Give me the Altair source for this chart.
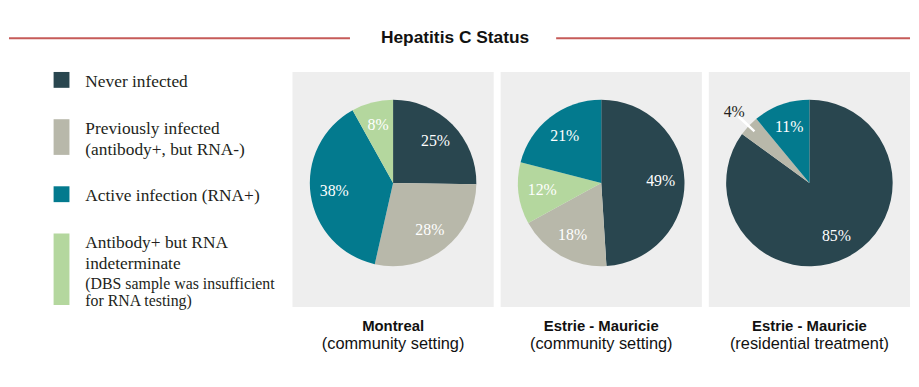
import altair as alt
import pandas as pd

# ---------------- data ----------------
categories = ["Never infected", "Previously infected", "Active infection",
              "Antibody+ but RNA indeterminate"]
colors = ["#29464f", "#b8b8aa", "#037a8e", "#b4d79e"]

legend_labels = [
    "Never infected",
    "Previously infected\n(antibody+, but RNA-)",
    "Active infection (RNA+)",
    "Antibody+ but RNA\nindeterminate",
]
legend_notes = ["", "", "", "(DBS sample was insufficient\nfor RNA testing)"]

chart_title = "Hepatitis C Status"
panel_titles = ["Montreal", "Estrie - Mauricie", "Estrie - Mauricie"]
panel_subtitles = ["(community setting)", "(community setting)", "(residential treatment)"]

# slices listed clockwise from 12 o'clock
montreal_cats = ["Never infected", "Previously infected", "Active infection",
                 "Antibody+ but RNA indeterminate"]
montreal_vals = [25, 28, 38, 8]
estrie_comm_cats = ["Never infected", "Previously infected",
                    "Antibody+ but RNA indeterminate", "Active infection"]
estrie_comm_vals = [49, 18, 12, 21]
estrie_res_cats = ["Never infected", "Previously infected", "Active infection"]
estrie_res_vals = [85, 4, 11]

panels = [(montreal_cats, montreal_vals),
          (estrie_comm_cats, estrie_comm_vals),
          (estrie_res_cats, estrie_res_vals)]

rows = []
for p, (cats, vals) in enumerate(panels):
    for k, (c, v) in enumerate(zip(cats, vals)):
        rows.append({"panel": p, "category": c, "value": v, "order": k})
df = pd.DataFrame(rows)

legend_df = pd.DataFrame({"category": categories, "label": legend_labels,
                          "note": legend_notes,
                          "order": list(range(len(categories)))})

# ---------------- layout / style ----------------
SERIF = "Liberation Serif"
SANS = "Liberation Sans"
PW, PH = 203, 237          # pie panel size
CX, CY = PW / 2, 112       # pie centre inside panel
R = 84
LEG_W = 279
MAIN_LH, NOTE_LH = 20, 18  # swatch height per main / note line
TEXT_LH = 21
SPAN = 235
swatch_total = sum(
    len(l.split("\n")) * MAIN_LH - 4 + (len(n.split("\n")) * NOTE_LH if n else 0)
    for l, n in zip(legend_labels, legend_notes)
)
GAP = (SPAN - swatch_total) / (len(legend_labels) - 1)

color_scale = alt.Scale(domain=categories, range=colors)
th_scale = alt.Scale(domain=[0, 1])


def pie(i):
    base = (
        alt.Chart(df)
        .transform_filter(alt.datum.panel == i)
        .transform_joinaggregate(total="sum(value)")
        .transform_window(cum="sum(value)", sort=[alt.SortField("order")])
        .transform_calculate(
            start="(datum.cum - datum.value) / datum.total",
            end="datum.cum / datum.total",
            mid="(datum.cum - datum.value / 2) / datum.total",
            label="datum.value + '%'",
        )
    )
    arcs = base.mark_arc(radius=R).encode(
        theta=alt.Theta("start:Q", scale=th_scale, stack=False),
        theta2="end:Q",
        color=alt.Color("category:N", scale=color_scale, legend=None),
        x=alt.value(CX), y=alt.value(CY),
    )
    inner = base.transform_filter("datum.value >= 5").mark_text(
        radius=60, font=SERIF, fontSize=16, color="white"
    ).encode(
        theta=alt.Theta("mid:Q", scale=th_scale, stack=False),
        text="label:N", x=alt.value(CX), y=alt.value(CY),
    )
    outer = base.transform_filter("datum.value < 5").mark_text(
        radius=104, font=SERIF, fontSize=16, color="#231f20"
    ).encode(
        theta=alt.Theta("mid:Q", scale=th_scale, stack=False),
        text="label:N", x=alt.value(CX), y=alt.value(CY),
    )
    leader = base.transform_filter("datum.value < 5").transform_calculate(
        l0="datum.mid - 0.0025", l1="datum.mid + 0.0025"
    ).mark_arc(radius=98, radius2=76, color="white").encode(
        theta=alt.Theta("l0:Q", scale=th_scale, stack=False),
        theta2="l1:Q", x=alt.value(CX), y=alt.value(CY),
    )
    cap1 = alt.Chart(pd.DataFrame({"t": [panel_titles[i]]})).mark_text(
        font=SANS, fontSize=15, fontWeight="bold", color="#111"
    ).encode(text="t:N", x=alt.value(CX), y=alt.value(PH + 19))
    cap2 = alt.Chart(pd.DataFrame({"t": [panel_subtitles[i]]})).mark_text(
        font=SANS, fontSize=16.5, color="#111"
    ).encode(text="t:N", x=alt.value(CX), y=alt.value(PH + 37))
    return alt.layer(arcs, inner, outer, leader, cap1, cap2).properties(
        width=PW, height=PH,
        view=alt.ViewBackground(fill="#eeeeee", strokeWidth=0),
    )


# ---------------- legend ----------------
leg_base = (
    alt.Chart(legend_df)
    .transform_calculate(
        nl="length(split(datum.label, '\\n'))",
        nn="datum.note == '' ? 0 : length(split(datum.note, '\\n'))",
    )
    .transform_calculate(sh=f"datum.nl * {MAIN_LH} - 4 + datum.nn * {NOTE_LH}")
    .transform_calculate(block=f"datum.sh + {GAP}")
    .transform_window(cum="sum(block)", sort=[alt.SortField("order")])
    .transform_calculate(y0="datum.cum - datum.block")
    .transform_calculate(
        y1="datum.y0 + datum.sh",
        ym="datum.y0 + 10",
        yn=f"datum.y0 + 9 + datum.nl * {TEXT_LH}",
    )
)
ly = alt.Scale(domain=[0, PH], reverse=True, nice=False, zero=False)
leg_rect = leg_base.mark_rect().encode(
    x=alt.value(45), x2=alt.value(61),
    y=alt.Y("y0:Q", scale=ly, axis=None), y2="y1:Q",
    color=alt.Color("category:N", scale=color_scale, legend=None),
)
leg_text = leg_base.mark_text(
    align="left", baseline="middle", lineBreak="\n", lineHeight=TEXT_LH,
    font=SERIF, fontSize=17.5, color="#231f20"
).encode(
    x=alt.value(77), y=alt.Y("ym:Q", scale=ly, axis=None), text="label:N"
)
leg_note = leg_base.transform_filter("datum.nn > 0").mark_text(
    align="left", baseline="middle", lineBreak="\n", lineHeight=17,
    font=SERIF, fontSize=16, color="#231f20"
).encode(
    x=alt.value(77), y=alt.Y("yn:Q", scale=ly, axis=None), text="note:N"
)
legend = alt.layer(leg_rect, leg_text, leg_note).properties(width=LEG_W, height=PH)

# ---------------- header ----------------
TOTAL_W = LEG_W + 3 * PW + 3 * 7
hdr_df = pd.DataFrame({"t": [chart_title]})
hdr_text = alt.Chart(hdr_df).mark_text(
    font=SANS, fontSize=17.5, fontWeight="bold", color="#111"
).encode(text="t:N", x=alt.value(450), y=alt.value(29))
rule_l = alt.Chart(hdr_df).mark_rule(color="#c65b59", strokeWidth=2).encode(
    x=alt.value(0), x2=alt.value(344), y=alt.value(29))
rule_r = alt.Chart(hdr_df).mark_rule(color="#c65b59", strokeWidth=2).encode(
    x=alt.value(552), x2=alt.value(TOTAL_W), y=alt.value(29))
header = alt.layer(rule_l, rule_r, hdr_text).properties(width=TOTAL_W, height=55)

chart = alt.vconcat(
    header,
    alt.hconcat(legend, pie(0), pie(1), pie(2), spacing=7),
    spacing=8,
).properties(padding=0).configure_view(strokeWidth=0)

chart.save("out.html", embed_options={"renderer": "svg", "actions": False})
